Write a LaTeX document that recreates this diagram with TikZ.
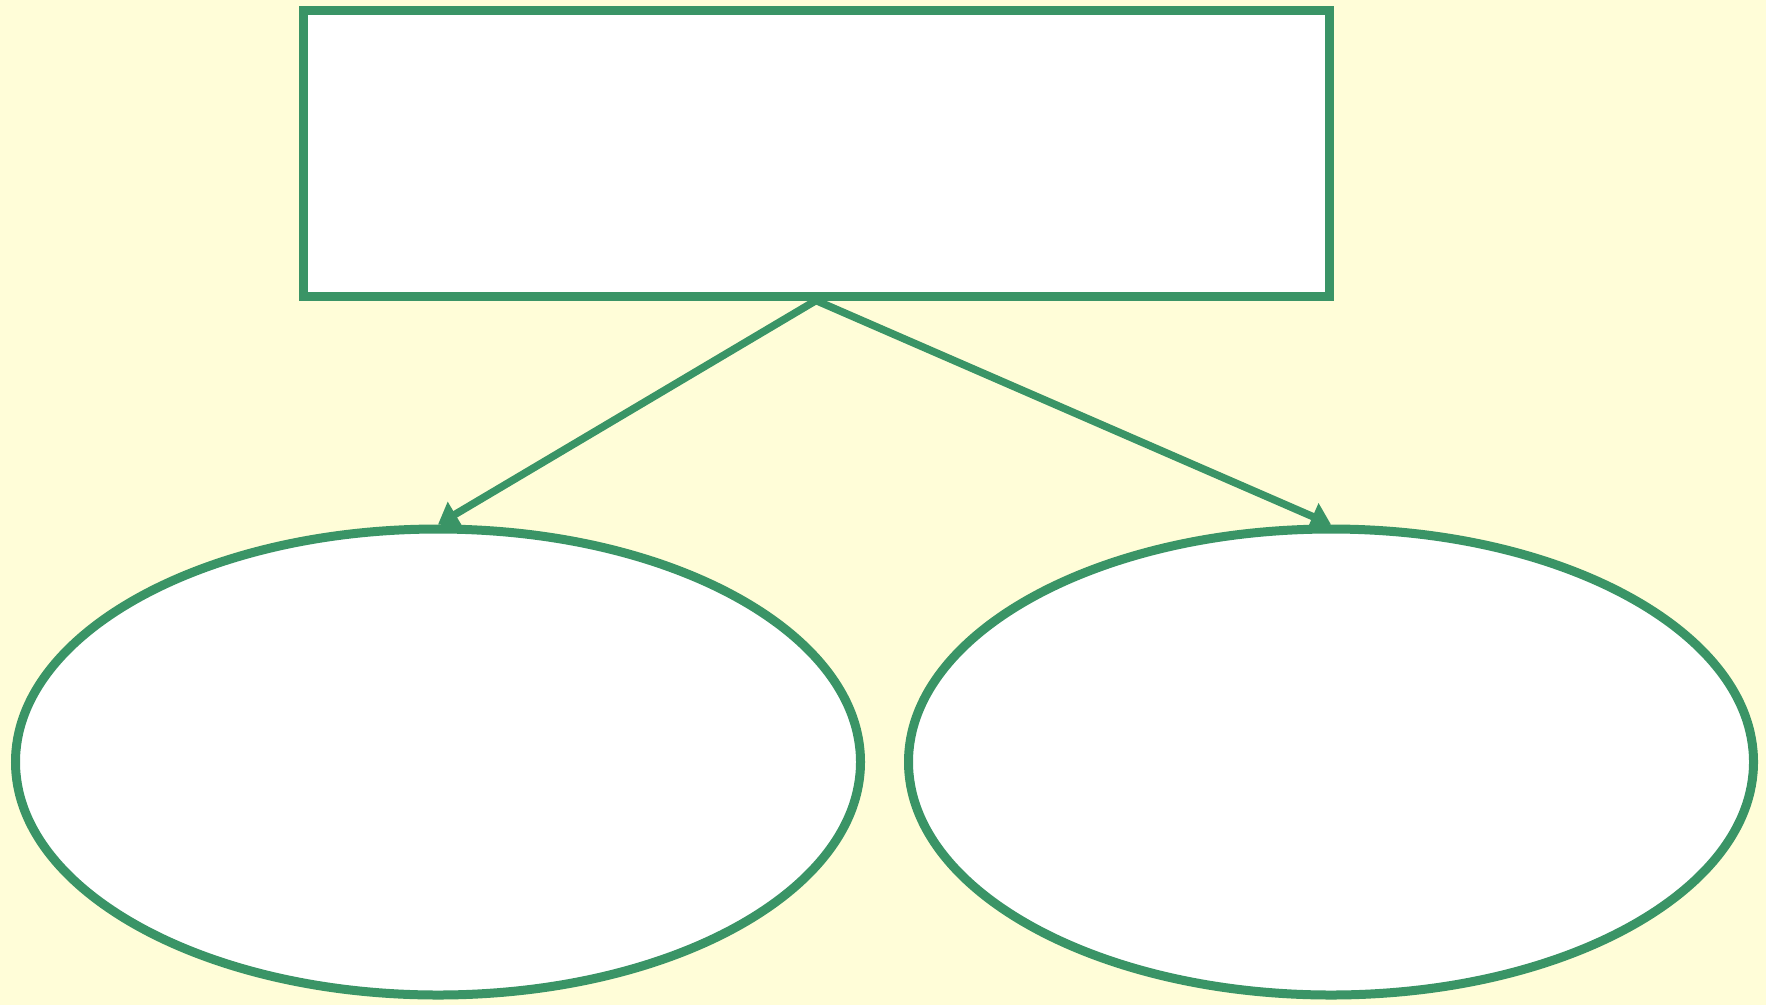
\documentclass[tikz,border=0pt]{standalone}
\usetikzlibrary{shapes.geometric,arrows.meta}
\definecolor{bgy}{HTML}{FFFDD8}
\definecolor{grn}{HTML}{3A9466}
\begin{document}
\begin{tikzpicture}[x=1pt,y=-1pt,
  box/.style={draw=grn,line width=9pt,fill=white,rectangle,minimum width=1026pt,minimum height=286pt,inner sep=0pt},
  oval/.style={draw=grn,line width=9pt,fill=white,ellipse,minimum width=845pt,minimum height=466pt,inner sep=0pt},
  conn/.style={draw=grn,line width=7.5pt,-{Triangle[length=20pt,width=28pt]}}]
\fill[bgy] (0,0) rectangle (1766,1005);
\useasboundingbox (0,0) rectangle (1766,1005);
\node[box] (top) at (816,153) {};
\node[oval] (left) at (438,762) {};
\node[oval] (right) at (1331,762) {};
\draw[conn] (top.south) -- (left.north);
\draw[conn] (top.south) -- (right.north);
\end{tikzpicture}
\end{document}
